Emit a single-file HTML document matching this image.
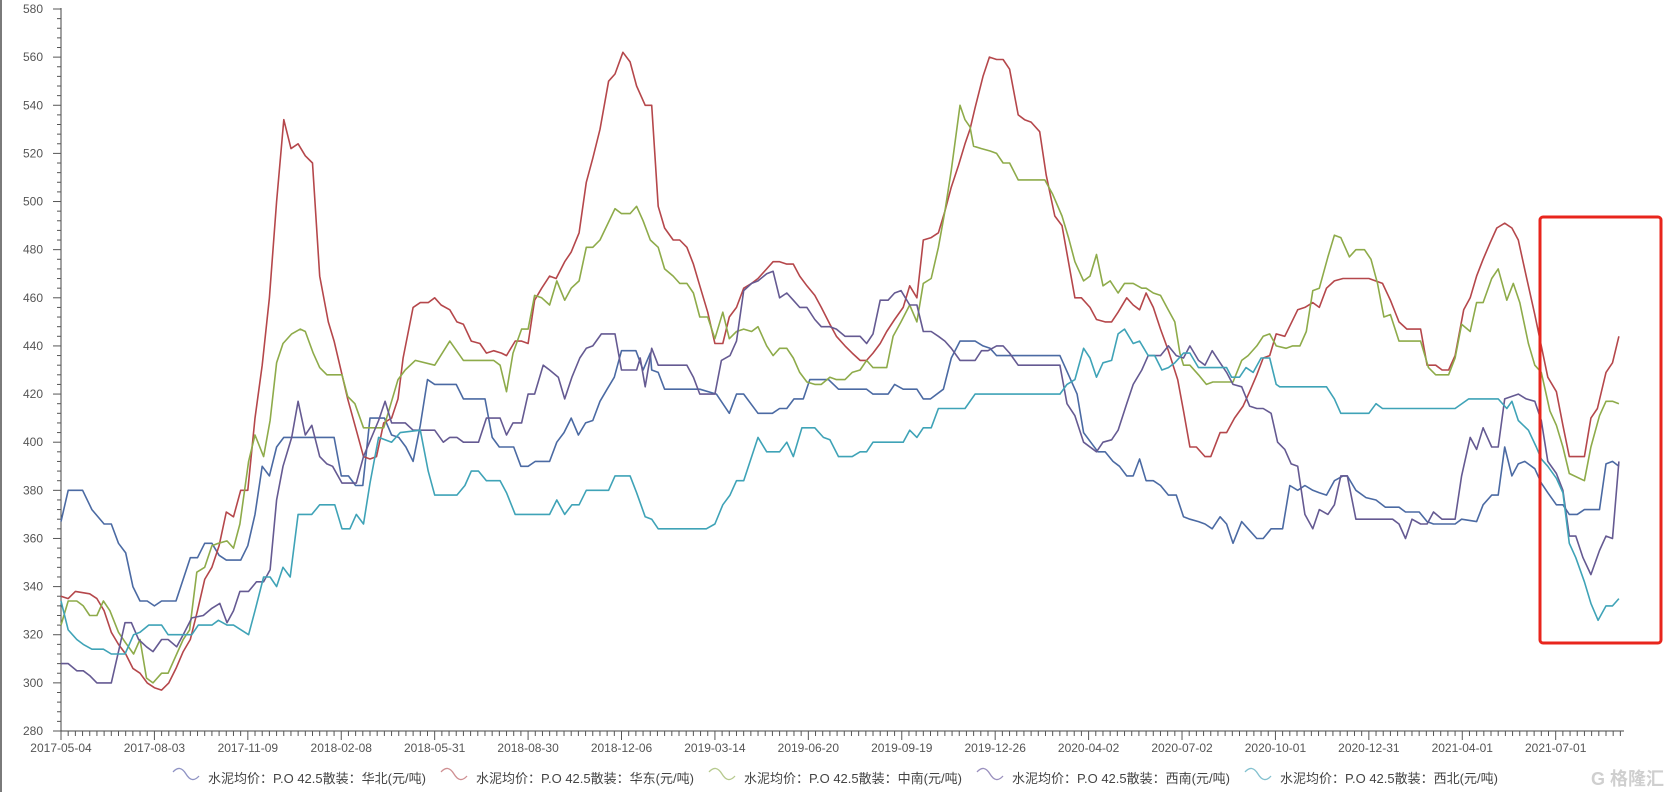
<!DOCTYPE html>
<html><head><meta charset="utf-8"><style>
html,body{margin:0;padding:0;background:#fff;}
body{width:1674px;height:792px;overflow:hidden;position:relative;font-family:"Liberation Sans","Noto Sans CJK SC",sans-serif;}
#edge{position:absolute;left:0;top:0;width:2px;height:792px;background:#7a7a7a;}
</style></head><body>
<div id="edge"></div>
<svg id="chart" width="1674" height="792" style="position:absolute;left:0;top:0"></svg>
<script>
const xTickLabels=["2017-05-04","2017-08-03","2017-11-09","2018-02-08","2018-05-31","2018-08-30","2018-12-06","2019-03-14","2019-06-20","2019-09-19","2019-12-26","2020-04-02","2020-07-02","2020-10-01","2020-12-31","2021-04-01","2021-07-01"];
const yTickValues=[280,300,320,340,360,380,400,420,440,460,480,500,520,540,560,580];
const seriesNames=["水泥均价：P.O 42.5散装：华北(元/吨)","水泥均价：P.O 42.5散装：华东(元/吨)","水泥均价：P.O 42.5散装：中南(元/吨)","水泥均价：P.O 42.5散装：西南(元/吨)","水泥均价：P.O 42.5散装：西北(元/吨)"];
const huabei=[[0,367],[1,380],[3,380],[4.3,372],[6,366],[7,366],[8,358],[9,354],[10,340],[11,334],[12,334],[13,332],[14,334],[16,334],[18,352],[19,352],[20,358],[21,358],[22,353],[23,351],[25,351],[26,357],[27,370],[28,390],[29,386],[30,398],[31,402],[36,402],[38,402],[39,386],[40,386],[41,382],[42,382],[43,410],[45,410],[46,403],[47,402],[48,398],[49,392],[50,407],[51,426],[52,424],[55,424],[56,418],[59,418],[60,402],[61,398],[63,398],[64,390],[65,390],[66,392],[68,392],[69,400],[70,404],[71,410],[72,403],[73,408],[74,409],[75,417],[76,422],[77,427],[78,438],[80,438],[81,430],[82,437],[82.2,430],[83.1,429],[84,422],[88.9,422],[91.2,420],[93,412],[94,420],[95,420],[97,412],[99,412],[100,414],[101,414],[102,418],[103.3,418],[104.2,426],[106.8,426],[108.2,422],[112.1,422],[113,420],[115.1,420],[116,424],[117.2,422],[119.1,422],[120,418],[121,418],[122.8,422],[123.9,435],[125.1,442],[127.2,442],[128.3,440],[129.3,439],[130.2,436],[139,436],[140.2,428],[141.4,420],[142.3,404],[144.3,396],[145.3,396],[146.4,392],[147.3,390],[148.3,386],[149.2,386],[150.1,393],[151,384],[152,384],[153,382],[154.1,378],[155.2,378],[156.2,369],[157.1,368],[158.3,367],[159.2,366],[160.2,364],[161.3,369],[162.2,366],[163.1,358],[164.3,367],[165.2,364],[166.4,360],[167.3,360],[168.4,364],[170,364],[171,382],[172.1,380],[173.1,382],[174.2,380],[175.1,379],[176.1,378],[177.2,384],[178.4,386],[179,386],[180.2,380],[181.6,377],[183,376],[184.3,373],[186.2,373],[187.1,371],[189,371],[190.1,367],[191,366],[194,366],[194.9,368],[197,367],[197.9,374],[199.1,378],[200,378],[200.9,398],[201.9,386],[202.8,391],[203.7,392],[205.1,389],[206,383],[206.9,379],[208.1,374],[209,374],[209.9,370],[211,370],[212,372],[214.1,372],[215,391],[215.9,392],[216.8,390]];
const huadong=[[0,336],[1,335],[2,338],[4,337],[5,335],[6,330],[7,321],[8,316],[9,312],[10,306],[11,304],[12,300],[13,298],[14,297],[15,300],[16,306],[17,313],[18,318],[19,330],[20,343],[21,348],[22,357],[23,371],[24,369],[25,380],[26,380],[27,410],[28,432],[29,460],[30,500],[31,534],[32,522],[33,524],[34,519],[35,516],[36,469],[37.2,450],[38,442],[39.9,418],[41.1,405],[42.1,394],[43,393],[43.9,394],[44.9,408],[46,410],[46.9,418],[47.6,435],[49,456],[50,458],[51.1,458],[52,460],[52.9,457],[54.1,455],[55.1,450],[56,449],[57.1,442],[58.3,441],[59.2,437],[60.2,438],[61.3,437],[62,436],[63.2,442],[64.1,442],[65,441],[65.9,459],[66.9,464],[68,469],[68.9,468],[70.1,475],[71,479],[72.1,487],[73.1,508],[74,518],[75,530],[76.2,550],[77.1,553],[78.2,562],[79.2,558],[80.1,548],[81.3,540],[82.2,540],[83.1,498],[84,489],[85.2,484],[86.1,484],[87.1,481],[88,474],[88.9,465],[90,454],[91,441],[92.1,441],[93,452],[94,456],[95,464],[96.1,466],[97,468],[98.2,472],[99.1,475],[100,475],[101,474],[101.9,474],[102.8,469],[103.8,465],[104.9,461],[105.8,456],[107,449],[107.9,444],[109.1,440],[110.1,437],[111.2,434],[112.1,434],[113,437],[114,441],[114.9,446],[116,451],[117.2,456],[118.1,465],[119.1,460],[120,484],[121.1,485],[122.1,487],[123,496],[123.9,506],[124.9,515],[125.8,524],[126.5,530],[127.2,539],[128.3,552],[129.2,560],[130.2,559],[131.1,559],[132,555],[133.2,536],[134.1,534],[135,533],[136.2,529],[137.1,511],[138.3,494],[139.3,490],[141.1,460],[142,460],[143.2,456],[144.1,451],[145.3,450],[146.2,450],[147.1,454],[148.3,460],[149.2,457],[150.1,455],[151,462],[152,456],[153,447],[154.1,438],[155.4,426],[156.2,413],[157.1,398],[158,398],[159.2,394],[160,394],[161.3,404],[162.2,404],[163.3,410],[164.5,415],[165.4,421],[166.4,428],[167.3,435],[168.2,436],[169.1,445],[170.3,444],[172.1,455],[173.1,456],[174.2,458],[175.1,456],[176.1,464],[177.2,467],[178.4,468],[182,468],[183.9,466],[185,459],[186.2,450],[187.3,447],[189.2,447],[190.1,432],[191.3,432],[192.2,430],[193.1,430],[194,436],[195.2,455],[196.1,460],[197,469],[197.9,476],[198.9,483],[199.8,489],[200.9,491],[201.9,489],[202.8,484],[203.9,469],[205.1,453],[206,440],[206.9,427],[208.1,421],[209,407],[209.9,394],[212,394],[212.9,410],[213.8,414],[215,429],[215.9,433],[216.8,444]];
const zhongnan=[[0,324],[1,334],[2.2,334],[3.1,332],[4,328],[5,328],[5.9,334],[6.8,330],[8,321],[8.9,317],[10.1,312],[11,318],[11.9,302],[12.8,300],[14,304],[14.9,304],[16.1,312],[17,318],[17.9,322],[18.9,346],[20,348],[21,357],[21.9,358],[23.1,359],[24,356],[24.9,366],[26.1,392],[27,403],[28.2,394],[29.1,409],[30,433],[30.9,441],[32.1,445],[33.3,447],[34,446],[35.1,437],[36,431],[37,428],[39.1,428],[39.9,419],[40.9,416],[42.1,406],[44.9,406],[46,417],[46.9,426],[47.9,430],[49.3,434],[52,432],[54.1,442],[56,434],[60.2,434],[61.1,432],[62,421],[62.9,437],[64.1,447],[65,447],[65.9,461],[66.9,460],[68,457],[69,467],[70.1,459],[71,464],[72.1,467],[73.1,481],[74,481],[75,484],[77.1,497],[78,495],[79.2,495],[80.1,498],[81,492],[82,484],[83.1,481],[84,472],[85.2,469],[86.1,466],[87.1,466],[88,462],[88.9,452],[90,452],[91,443],[92.1,454],[93,443],[94,446],[95,447],[96.1,446],[97,448],[98.2,440],[99.1,436],[100,439],[101,439],[101.9,435],[102.8,429],[103.8,425],[104.9,424],[105.8,424],[107,427],[107.9,426],[109.1,426],[110.1,429],[111.2,430],[112.1,434],[113,431],[114.9,431],[115.8,444],[116.9,450],[118.1,457],[119.1,450],[120,466],[121.1,468],[122.1,481],[123,496],[123.9,513],[125.1,540],[125.8,534],[126.5,531],[127,523],[128.1,522],[129.3,521],[130.2,520],[131.1,516],[132,516],[133.2,509],[136.9,509],[138,503],[139.3,494],[140.2,485],[141.1,475],[142.3,467],[143.2,469],[144.1,478],[145,465],[146,467],[147.1,462],[148,466],[149.2,466],[150.4,464],[151,464],[152,462],[153,461],[153.9,456],[155,450],[155.7,437],[156.2,432],[157.1,432],[158.3,428],[159.4,424],[160.3,425],[163.1,425],[164.3,434],[165.2,436],[166.4,440],[167.3,444],[168.2,445],[169.1,440],[170.5,439],[171.4,440],[172.4,440],[173.3,446],[174.2,463],[175.1,464],[176.3,477],[177.2,486],[178.1,485],[179.3,477],[180.2,480],[181.4,480],[182.3,476],[183.2,466],[184.1,452],[185,453],[186.2,442],[189.2,442],[190.3,431],[191.3,428],[193.1,428],[194,435],[194.9,449],[196.1,446],[197,458],[197.9,458],[199.1,468],[200,472],[201.2,459],[202.1,466],[203,458],[204.2,441],[205.1,432],[206,429],[207.2,413],[208.1,407],[209,398],[209.9,387],[212,384],[212.9,398],[214.1,411],[215,417],[215.9,417],[216.8,416]];
const xinan=[[0,308],[1,308],[2.2,305],[3.1,305],[4,303],[5,300],[7,300],[8,313],[8.9,325],[9.8,325],[10.8,318],[11.9,315],[12.8,313],[14,318],[14.9,318],[16.1,315],[17,320],[18.2,327],[19.8,328],[21,331],[22.1,333],[23.1,325],[24,330],[24.9,338],[26.1,338],[27.2,342],[28.2,342],[29.1,347],[30,376],[30.9,390],[32.1,402],[33,417],[34,403],[34.9,407],[36,394],[37,391],[37.8,390],[39.1,383],[41.1,383],[42.1,394],[44.2,409],[45.1,417],[46,408],[47.9,408],[49,405],[52,405],[53.2,400],[54.1,402],[55.1,402],[56,400],[58.1,400],[59.2,410],[61.1,410],[62,403],[62.9,408],[64.1,408],[65,420],[65.9,420],[67.1,432],[68,430],[69.2,427],[70.1,418],[71.1,427],[72.2,435],[73.1,439],[74,440],[75.2,445],[77.1,445],[78,430],[80.1,430],[80.6,435],[81.3,423],[82.2,439],[83.1,432],[87.1,432],[88,427],[88.9,420],[91,420],[91.9,434],[93.1,436],[94,442],[95,463],[96.1,466],[97,467],[98.2,470],[99.1,471],[100,460],[101,462],[101.9,459],[102.8,456],[103.8,456],[104.9,451],[105.8,448],[107,448],[107.9,447],[109.1,444],[111.2,444],[112.1,441],[113,445],[114,459],[115.1,459],[116,462],[116.9,463],[118.1,457],[119.1,457],[120,446],[121.1,446],[122.1,444],[123,442],[123.9,439],[125.1,434],[127.2,434],[128.1,438],[129,438],[130.2,440],[131.1,440],[132,437],[133.2,432],[139,432],[140,416],[141.1,411],[142.3,400],[144.1,396],[145,400],[146.2,401],[147.1,405],[148.3,416],[149.2,424],[150.4,430],[151.3,436],[153,436],[154.1,440],[155.2,436],[156.2,435],[157.1,440],[158.3,434],[159.2,432],[160.2,438],[161.3,433],[162.2,429],[163.1,424],[164.3,423],[165.4,415],[166.4,414],[167.3,414],[168.4,412],[169.3,400],[170.3,397],[171.2,391],[172.1,390],[173.1,370],[174.2,364],[175.1,372],[176.3,370],[177.2,374],[178.1,386],[179,386],[180.2,368],[185.3,368],[186.2,366],[187.1,360],[188,368],[189.2,366],[190.1,366],[191,371],[192.2,368],[194,368],[194.9,386],[196.1,402],[197,397],[197.9,406],[199.1,398],[200,398],[200.9,418],[202.8,420],[203.9,418],[205.1,417],[206,409],[206.9,392],[208.1,387],[209,380],[209.9,361],[210.8,361],[211.8,352],[212.9,345],[214.1,355],[215,361],[215.9,360],[216.8,392]];
const xibei=[[0,334],[1,322],[2.2,318],[3.1,316],[4.3,314],[5.9,314],[7,312],[8.9,312],[10.1,320],[11,321],[12.2,324],[14,324],[14.9,320],[18.2,320],[19.1,324],[21,324],[21.9,326],[23.1,324],[24,324],[26.1,320],[27,330],[28.2,344],[29.1,344],[30,340],[30.9,348],[31.9,344],[33,370],[34.9,370],[36,374],[38.1,374],[39.1,364],[40.2,364],[41.1,370],[42.1,366],[43,383],[44.2,402],[46,400],[47.2,404],[50,405],[51.1,388],[52,378],[55.1,378],[56.2,382],[57.1,388],[58.1,388],[59.2,384],[61.1,384],[62,379],[63.2,370],[68,370],[69,376],[70.1,370],[71.1,374],[72.1,374],[73.1,380],[76.2,380],[77.1,386],[79.2,386],[80.1,379],[81.3,369],[82.2,368],[83.1,364],[89.8,364],[91,366],[92.1,374],[93.1,378],[94,384],[95,384],[97,402],[98.2,396],[100,396],[101,400],[101.9,394],[103.1,406],[104.9,406],[106.1,402],[107,401],[108.2,394],[110.1,394],[111.2,396],[112.1,396],[113,400],[117.2,400],[118.1,405],[119.1,402],[120,406],[121.1,406],[122.1,414],[125.8,414],[127.2,420],[139,420],[140,424],[141.1,426],[142.3,439],[143.2,435],[144.1,427],[145,433],[146.2,434],[147.1,445],[148,447],[149.2,441],[150.1,442],[151.3,436],[152.2,436],[153.2,430],[154.1,431],[155,433],[156.2,437],[157.1,437],[158.3,431],[159.2,431],[162.2,431],[162.9,427],[164,427],[164.9,431],[165.9,429],[167,435],[168.2,435],[169.1,424],[169.6,423],[176.1,423],[177.2,418],[178.1,412],[182,412],[183,416],[183.9,414],[194,414],[195.9,418],[200,418],[201.2,414],[201.9,417],[202.8,409],[204.2,405],[205.3,398],[206,393],[206.9,390],[208.1,385],[209,379],[209.9,358],[210.8,352],[212,342],[212.9,333],[213.9,326],[215,332],[215.9,332],[216.8,335]];
const seriesData=[huabei,huadong,zhongnan,xinan,xibei];
const seriesColors=["#4b6aa3","#b5474b","#8eab4a","#655a92","#3fa3b7"];
const legendColors=["#8f93c4","#cf8f92","#b6c98e","#9a90be","#83c1cf"];

const NS="http://www.w3.org/2000/svg";
const svg=document.getElementById('chart');
const X0=61,STEP=7.186,Y0=731,PPU=2.4067,XEND=1624;
function xs(i){return X0+i*STEP;}
function ys(v){return Y0-(v-280)*PPU;}
function mk(tag,attrs,parent){const e=document.createElementNS(NS,tag);for(const k in attrs)e.setAttribute(k,attrs[k]);(parent||svg).appendChild(e);return e;}

// axes
const yAxis=mk('line',{x1:X0,y1:ys(580)-1,x2:X0,y2:Y0,stroke:'#444','stroke-width':1});


const xAxis=mk('line',{x1:X0,y1:Y0,x2:XEND,y2:Y0,stroke:'#444','stroke-width':1});


for(let v=280;v<=580;v+=4){
  const major=(v-280)%20===0;
  const t=mk('line',{x1:X0-(major?8:4),y1:ys(v),x2:X0,y2:ys(v),stroke:'#555','stroke-width':1});
  
  
}
yTickValues.forEach(v=>{
  const t=mk('text',{x:43,y:ys(v)+4,'text-anchor':'end','font-size':12,fill:'#555'});
  t.textContent=v;
  
  
});
const nIdx=Math.floor((XEND-X0)/STEP);
for(let i=0;i<=nIdx;i++){
  const major=i%13===0&&i/13<xTickLabels.length;
  const t=mk('line',{x1:xs(i),y1:Y0,x2:xs(i),y2:Y0+(major?9:5),stroke:'#555','stroke-width':1});
  
  
}
xTickLabels.forEach((s,k)=>{
  const t=mk('text',{x:xs(k*13),y:752,'text-anchor':'middle','font-size':12,fill:'#555'});
  t.textContent=s;
  
  
});
// series
const keys=['huabei','huadong','zhongnan','xinan','xibei'];
seriesData.forEach((pts,s)=>{
  const d=pts.map((p,j)=>(j?'L':'M')+xs(p[0]).toFixed(1)+','+ys(p[1]).toFixed(1)).join('');
  const p=mk('path',{d:d,fill:'none',stroke:seriesColors[s],'stroke-width':1.6,'stroke-linejoin':'round'});
  
  
});
// highlight box
const box=mk('rect',{x:1540,y:217,width:121,height:426,rx:3,fill:'none',stroke:'#e8251c','stroke-width':3});


// legend
const legendX=[173,441,709,977,1245];
seriesNames.forEach((n,s)=>{
  const g=mk('g',{});
  
  
  const x=legendX[s];
  mk('path',{d:`M${x},772 Q${x+7},764 ${x+13},774 T${x+26},776`,fill:'none',stroke:legendColors[s],'stroke-width':1.3},g);
  const t=mk('text',{x:x+35,y:783,'font-size':13,fill:'#444'},g);
  t.textContent=n;
});
const wm=mk('text',{x:1664,y:785,'text-anchor':'end','font-size':18,fill:'#cfcfcf','font-weight':'bold'});
wm.textContent='G 格隆汇';


</script>
</body></html>
